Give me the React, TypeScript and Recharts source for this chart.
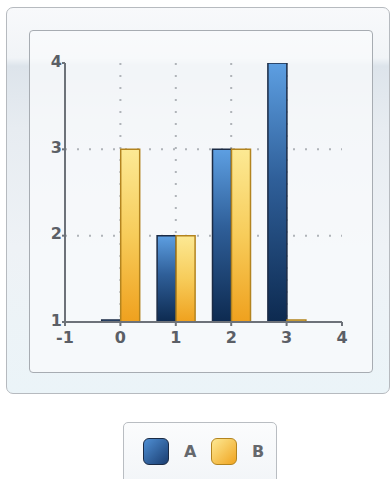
import { BarChart, Bar, XAxis, YAxis, CartesianGrid } from "recharts";

// series values, one entry per x position
const xValues = [0, 1, 2, 3];
const seriesA = [1, 2, 3, 4];
const seriesB = [3, 2, 3, 1];

const xTicks = [-1, 0, 1, 2, 3, 4];
const yTicks = [1, 2, 3, 4];
const gridX = [0, 1, 2, 3];
const gridY = [2, 3];

const series = [
  { key: "a", name: "A", fill: "url(#gradA)", stroke: "#1b2b45", chip: "linear-gradient(135deg, #4f8fd4, #1a3d70)", chipBorder: "#1b2b45" },
  { key: "b", name: "B", fill: "url(#gradB)", stroke: "#b3841f", chip: "linear-gradient(135deg, #fde993, #f0a420)", chipBorder: "#b3841f" },
];

const data = xValues.map((x, i) => ({ x, a: seriesA[i], b: seriesB[i] }));

const tickStyle = {
  fill: "#5b5f66",
  fontSize: 16,
  fontWeight: 700,
  fontFamily: "DejaVu Sans, Verdana, sans-serif",
};

export default function App() {
  return (
    <div style={{ position: "absolute", left: 0, top: 0, width: 391, height: 479, background: "#fff", overflow: "hidden" }}>
      {/* outer frame */}
      <div
        style={{
          position: "absolute",
          left: 6,
          top: 7,
          width: 382,
          height: 385,
          border: "1px solid #b6babf",
          borderRadius: 7,
          background:
            "linear-gradient(to bottom, #f8f9fb 0px, #f1f4f7 50px, #dde4eb 58px, #e7ecf1 120px, #eef2f6 240px, #ebf4f8 100%)",
        }}
      />
      {/* inner plot panel */}
      <div
        style={{
          position: "absolute",
          left: 29,
          top: 30,
          width: 342,
          height: 341,
          border: "1px solid #a7acb2",
          borderRadius: 4,
          background: "rgba(250,251,252,0.72)",
        }}
      />

      <div style={{ position: "absolute", left: 0, top: 0 }}>
        <BarChart
          width={391}
          height={400}
          data={data}
          margin={{ top: 63, right: 49, bottom: 48, left: 25 }}
          barGap={0}
        >
          <defs>
            <linearGradient id="gradA" x1="0" y1="0" x2="0" y2="1">
              <stop offset="0%" stopColor="#5d9fe2" />
              <stop offset="45%" stopColor="#2f5f99" />
              <stop offset="100%" stopColor="#0d2a50" />
            </linearGradient>
            <linearGradient id="gradB" x1="0" y1="0" x2="0" y2="1">
              <stop offset="0%" stopColor="#fce994" />
              <stop offset="50%" stopColor="#f7cc5a" />
              <stop offset="100%" stopColor="#efa11e" />
            </linearGradient>
          </defs>

          {/* dotted guides at selected values only */}
          <CartesianGrid
            stroke="#b0b4b9"
            strokeWidth={2}
            strokeDasharray="2 10"
            verticalValues={gridX}
            horizontalValues={gridY}
          />

          <XAxis
            dataKey="x"
            type="number"
            domain={[-1, 4]}
            ticks={xTicks}
            allowDataOverflow
            interval={0}
            tickSize={4}
            tickMargin={6}
            stroke="#6d7279"
            strokeWidth={2}
            tick={tickStyle}
          />
          <YAxis
            type="number"
            domain={[1, 4]}
            ticks={yTicks}
            allowDataOverflow
            interval={0}
            width={40}
            tickSize={3}
            tickMargin={0}
            stroke="#6d7279"
            strokeWidth={2}
            tick={{ ...tickStyle, dy: -2 }}
          />

          {series.map((s) => (
            <Bar
              key={s.key}
              dataKey={s.key}
              name={s.name}
              fill={s.fill}
              stroke={s.stroke}
              strokeWidth={1.5}
              barSize={19}
              minPointSize={2}
              isAnimationActive={false}
            />
          ))}
        </BarChart>
      </div>

      {/* legend */}
      <div
        style={{
          position: "absolute",
          left: 123,
          top: 422,
          width: 152,
          height: 70,
          border: "1px solid #b9bdc2",
          borderRadius: 5,
          background: "linear-gradient(to bottom, #fbfcfd, #f1f4f7)",
        }}
      >
        {series.map((s, i) => (
          <div key={s.key} style={{ position: "absolute", left: 19 + i * 68, top: 15, display: "flex", alignItems: "center" }}>
            <div
              style={{
                width: 24,
                height: 25,
                borderRadius: 6,
                border: `1.5px solid ${s.chipBorder}`,
                background: s.chip,
              }}
            />
            <span
              style={{
                marginLeft: 15,
                color: "#65686d",
                fontSize: 16,
                fontWeight: 700,
                fontFamily: "DejaVu Sans, Verdana, sans-serif",
              }}
            >
              {s.name}
            </span>
          </div>
        ))}
      </div>
    </div>
  );
}
